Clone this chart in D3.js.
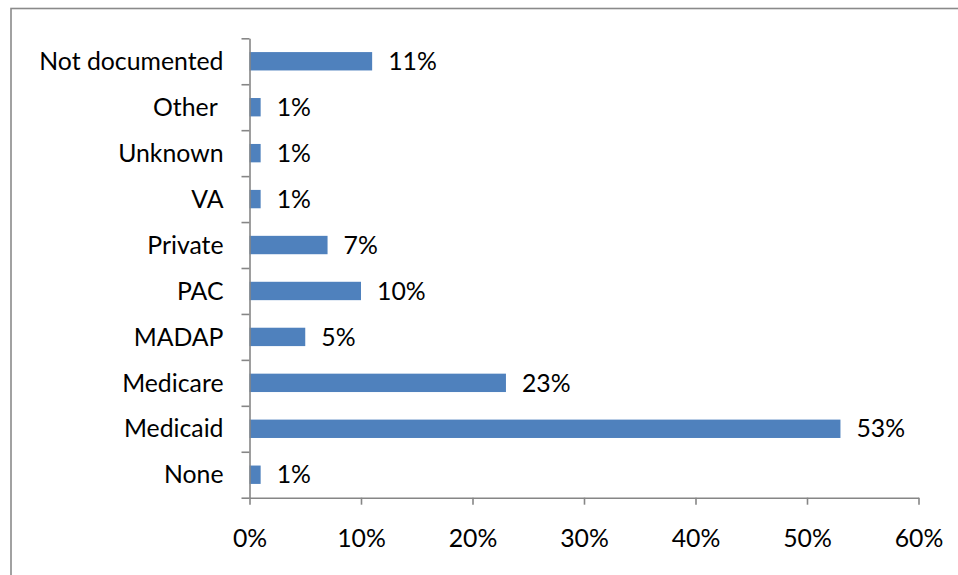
<!DOCTYPE html>
<html>
<head>
<meta charset="utf-8">
<script src="https://cdn.jsdelivr.net/npm/d3@7"></script>
<style>
  html, body { margin: 0; padding: 0; background: #fff; }
  svg { display: block; }
  text { font-family: Lato, "Open Sans", sans-serif; fill: #000; }
</style>
</head>
<body>
<div id="chart"></div>
<script>
// Payer categories, listed bottom to top as they appear on the axis
const categories = ["None", "Medicaid", "Medicare", "MADAP", "PAC", "Private", "VA", "Unknown", "Other ", "Not documented"];
const values = [1, 53, 23, 5, 10, 7, 1, 1, 1, 11];
const xTicks = [0, 10, 20, 30, 40, 50, 60];

const W = 958, H = 575;
const plot = { left: 249.5, right: 918.5, top: 38.3, bottom: 497.7 };
const axisColor = "#868686";
const barColor = "#4F81BD";
const fontSize = 24.8;

const svg = d3.select("#chart").append("svg")
  .attr("width", W).attr("height", H);

// chart frame
svg.append("rect")
  .attr("x", 11).attr("y", 8.5)
  .attr("width", 1000).attr("height", 700)
  .attr("fill", "none")
  .attr("stroke", "#8a8a8a")
  .attr("stroke-width", 1.6);

const x = d3.scaleLinear().domain([0, 60]).range([plot.left, plot.right]);

// top-to-bottom order on screen
const order = categories.slice().reverse();
const y = d3.scaleBand()
  .domain(order)
  .range([plot.top, plot.bottom])
  .paddingInner(0.6)
  .paddingOuter(0.3);

const data = categories.map((c, i) => ({ cat: c, v: values[i] }));

// bars
svg.append("g").selectAll("rect")
  .data(data)
  .join("rect")
  .attr("x", x(0))
  .attr("y", d => y(d.cat))
  .attr("width", d => x(d.v) - x(0))
  .attr("height", y.bandwidth())
  .attr("fill", barColor);

// value labels
svg.append("g").selectAll("text")
  .data(data)
  .join("text")
  .attr("x", d => x(d.v) + 16)
  .attr("y", d => y(d.cat) + y.bandwidth() / 2)
  .attr("dy", "0.35em")
  .attr("font-size", fontSize)
  .text(d => d.v + "%");

// category axis: ticks on band boundaries
const yEdges = d3.scaleLinear().domain([0, categories.length]).range([plot.bottom, plot.top]);
const yAxis = svg.append("g")
  .attr("transform", `translate(${plot.left},0)`)
  .call(d3.axisLeft(yEdges)
    .tickValues(d3.range(categories.length + 1))
    .tickSize(8)
    .tickSizeOuter(0)
    .tickFormat(""));
yAxis.selectAll("path, line").attr("stroke", axisColor).attr("stroke-width", 1.6);

// category labels
svg.append("g").selectAll("text")
  .data(order)
  .join("text")
  .attr("x", plot.left - 26)
  .attr("y", d => y(d) + y.bandwidth() / 2)
  .attr("dy", "0.35em")
  .attr("text-anchor", "end")
  .attr("font-size", fontSize)
  .style("white-space", "pre")
  .text(d => d);

// value axis
const xAxis = svg.append("g")
  .attr("transform", `translate(0,${plot.bottom})`)
  .call(d3.axisBottom(x)
    .tickValues(xTicks)
    .tickSize(7)
    .tickSizeOuter(0)
    .tickPadding(25)
    .tickFormat(d => d + "%"));
xAxis.selectAll("path, line").attr("stroke", axisColor).attr("stroke-width", 1.6);
xAxis.selectAll("text")
  .attr("font-size", fontSize)
  .attr("font-family", "Lato, 'Open Sans', sans-serif")
  .attr("fill", "#000");
</script>
</body>
</html>
